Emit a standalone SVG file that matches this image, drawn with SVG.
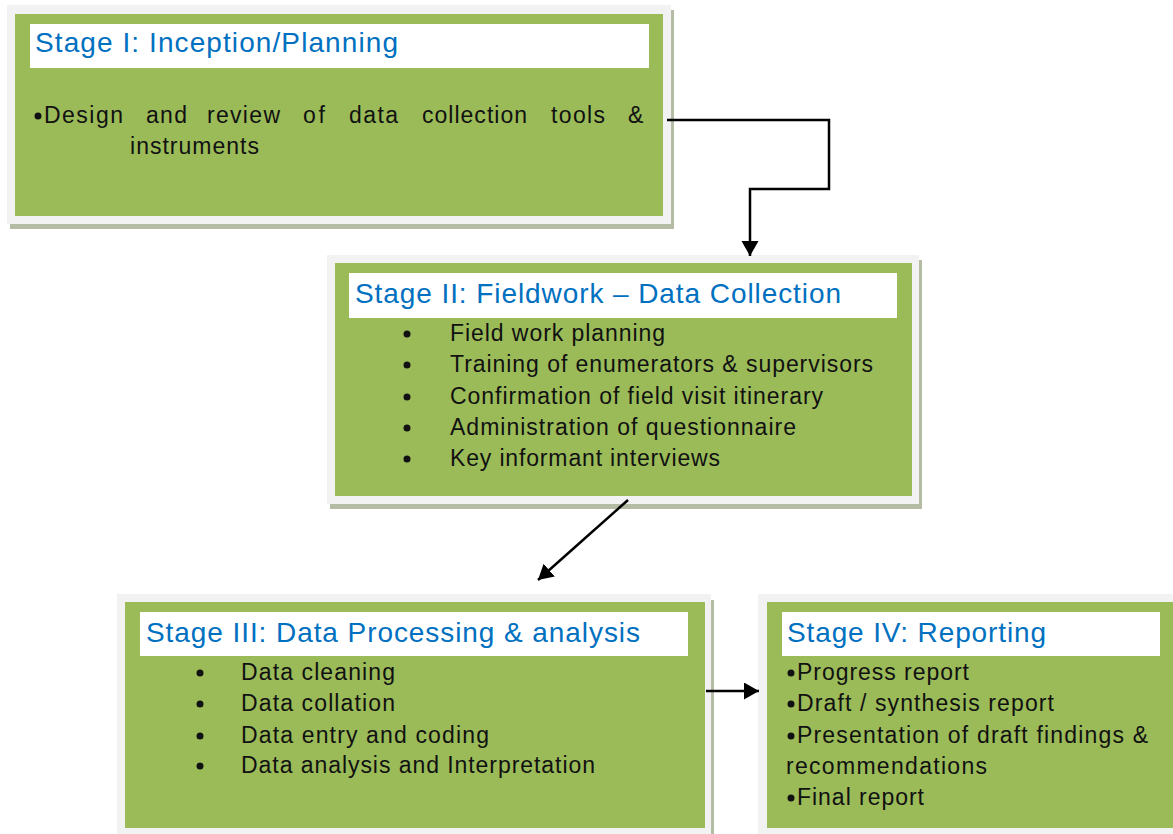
<svg xmlns="http://www.w3.org/2000/svg" width="1173" height="834" viewBox="0 0 1173 834">
  <style>
    .shadow { fill: #b4bca4; }
    .frame { fill: #f2f2f2; }
    .panel { fill: #9bbb59; }
    .band { fill: #ffffff; }
    .title { font-family: "Liberation Sans", Arial, sans-serif; font-size: 28px; fill: #0070c0; }
    .body { font-family: "Liberation Sans", Arial, sans-serif; font-size: 23px; fill: #111111; }
    .dot { fill: #111111; }
    .wire { fill: none; stroke: #000000; stroke-width: 2.5; }
  </style>
  <defs>
    <marker id="head" markerUnits="userSpaceOnUse" markerWidth="18" markerHeight="18" refX="15" refY="8.5" orient="auto">
      <path d="M0,0 L15,8.5 L0,17 z" fill="#000000"/>
    </marker>
  </defs>
  <rect width="1173" height="834" fill="#ffffff"/>

  <!-- Stage I -->
  <g id="stage1">
    <rect class="shadow" x="10" y="10" width="664" height="219"/>
    <rect class="frame" x="7" y="5" width="664" height="219"/>
    <rect class="panel" x="15" y="14" width="648" height="202"/>
    <rect class="band" x="30" y="24" width="619" height="44"/>
    <text class="title" x="35" y="52" textLength="363">Stage I: Inception/Planning</text>
    <circle class="dot" cx="38" cy="116" r="3.5"/>
    <text class="body" x="44" y="123" textLength="79">Design</text>
    <text class="body" x="146" y="123" textLength="41">and</text>
    <text class="body" x="207" y="123" textLength="73">review</text>
    <text class="body" x="303" y="123" textLength="22">of</text>
    <text class="body" x="349" y="123" textLength="49">data</text>
    <text class="body" x="422" y="123" textLength="105">collection</text>
    <text class="body" x="551" y="123" textLength="54">tools</text>
    <text class="body" x="628" y="123" textLength="17">&amp;</text>
    <text class="body" x="130" y="154" textLength="129">instruments</text>
  </g>

  <!-- Stage II -->
  <g id="stage2">
    <rect class="shadow" x="330" y="260" width="592" height="249"/>
    <rect class="frame" x="327" y="255" width="592" height="249"/>
    <rect class="panel" x="335" y="263" width="577" height="233"/>
    <rect class="band" x="349" y="273" width="548" height="45"/>
    <text class="title" x="355" y="303" textLength="486">Stage II: Fieldwork – Data Collection</text>
    <circle class="dot" cx="407" cy="334" r="3.5"/>
    <text class="body" x="450" y="341" textLength="215">Field work planning</text>
    <circle class="dot" cx="407" cy="365" r="3.5"/>
    <text class="body" x="450" y="372" textLength="423">Training of enumerators &amp; supervisors</text>
    <circle class="dot" cx="407" cy="397" r="3.5"/>
    <text class="body" x="450" y="404" textLength="373">Confirmation of field visit itinerary</text>
    <circle class="dot" cx="407" cy="428" r="3.5"/>
    <text class="body" x="450" y="435" textLength="346">Administration of questionnaire</text>
    <circle class="dot" cx="407" cy="459" r="3.5"/>
    <text class="body" x="450" y="466" textLength="270">Key informant interviews</text>
  </g>

  <!-- Stage III -->
  <g id="stage3">
    <rect class="shadow" x="120" y="600" width="594" height="240"/>
    <rect class="frame" x="117" y="594" width="594" height="246"/>
    <rect class="panel" x="125" y="602" width="580" height="226"/>
    <rect class="band" x="140" y="612" width="548" height="44"/>
    <text class="title" x="146" y="642" textLength="494">Stage III: Data Processing &amp; analysis</text>
    <circle class="dot" cx="200" cy="673" r="3.5"/>
    <text class="body" x="241" y="680" textLength="154">Data cleaning</text>
    <circle class="dot" cx="200" cy="704" r="3.5"/>
    <text class="body" x="241" y="711" textLength="154">Data collation</text>
    <circle class="dot" cx="200" cy="736" r="3.5"/>
    <text class="body" x="241" y="743" textLength="248">Data entry and coding</text>
    <circle class="dot" cx="200" cy="766" r="3.5"/>
    <text class="body" x="241" y="773" textLength="354">Data analysis and Interpretation</text>
  </g>

  <!-- Stage IV -->
  <g id="stage4">
    <rect class="frame" x="758" y="594" width="420" height="246"/>
    <rect class="panel" x="767" y="602" width="411" height="226"/>
    <rect class="band" x="782" y="612" width="378" height="44"/>
    <text class="title" x="787" y="642" textLength="259">Stage IV: Reporting</text>
    <circle class="dot" cx="791" cy="673" r="3.5"/>
    <text class="body" x="797" y="680" textLength="172">Progress report</text>
    <circle class="dot" cx="791" cy="704" r="3.5"/>
    <text class="body" x="797" y="711" textLength="257">Draft / synthesis report</text>
    <circle class="dot" cx="791" cy="736" r="3.5"/>
    <text class="body" x="797" y="743" textLength="351">Presentation of draft findings &amp;</text>
    <text class="body" x="786" y="774" textLength="201">recommendations</text>
    <circle class="dot" cx="791" cy="798" r="3.5"/>
    <text class="body" x="797" y="805" textLength="127">Final report</text>
  </g>

  <!-- Flow between stages -->
  <g id="connectors">
    <path class="wire" d="M667,120 H829 V189 H750 V256" marker-end="url(#head)"/>
    <path class="wire" d="M628,500 L538,580" marker-end="url(#head)"/>
    <path class="wire" d="M706,691 L759,691" marker-end="url(#head)"/>
  </g>
</svg>
